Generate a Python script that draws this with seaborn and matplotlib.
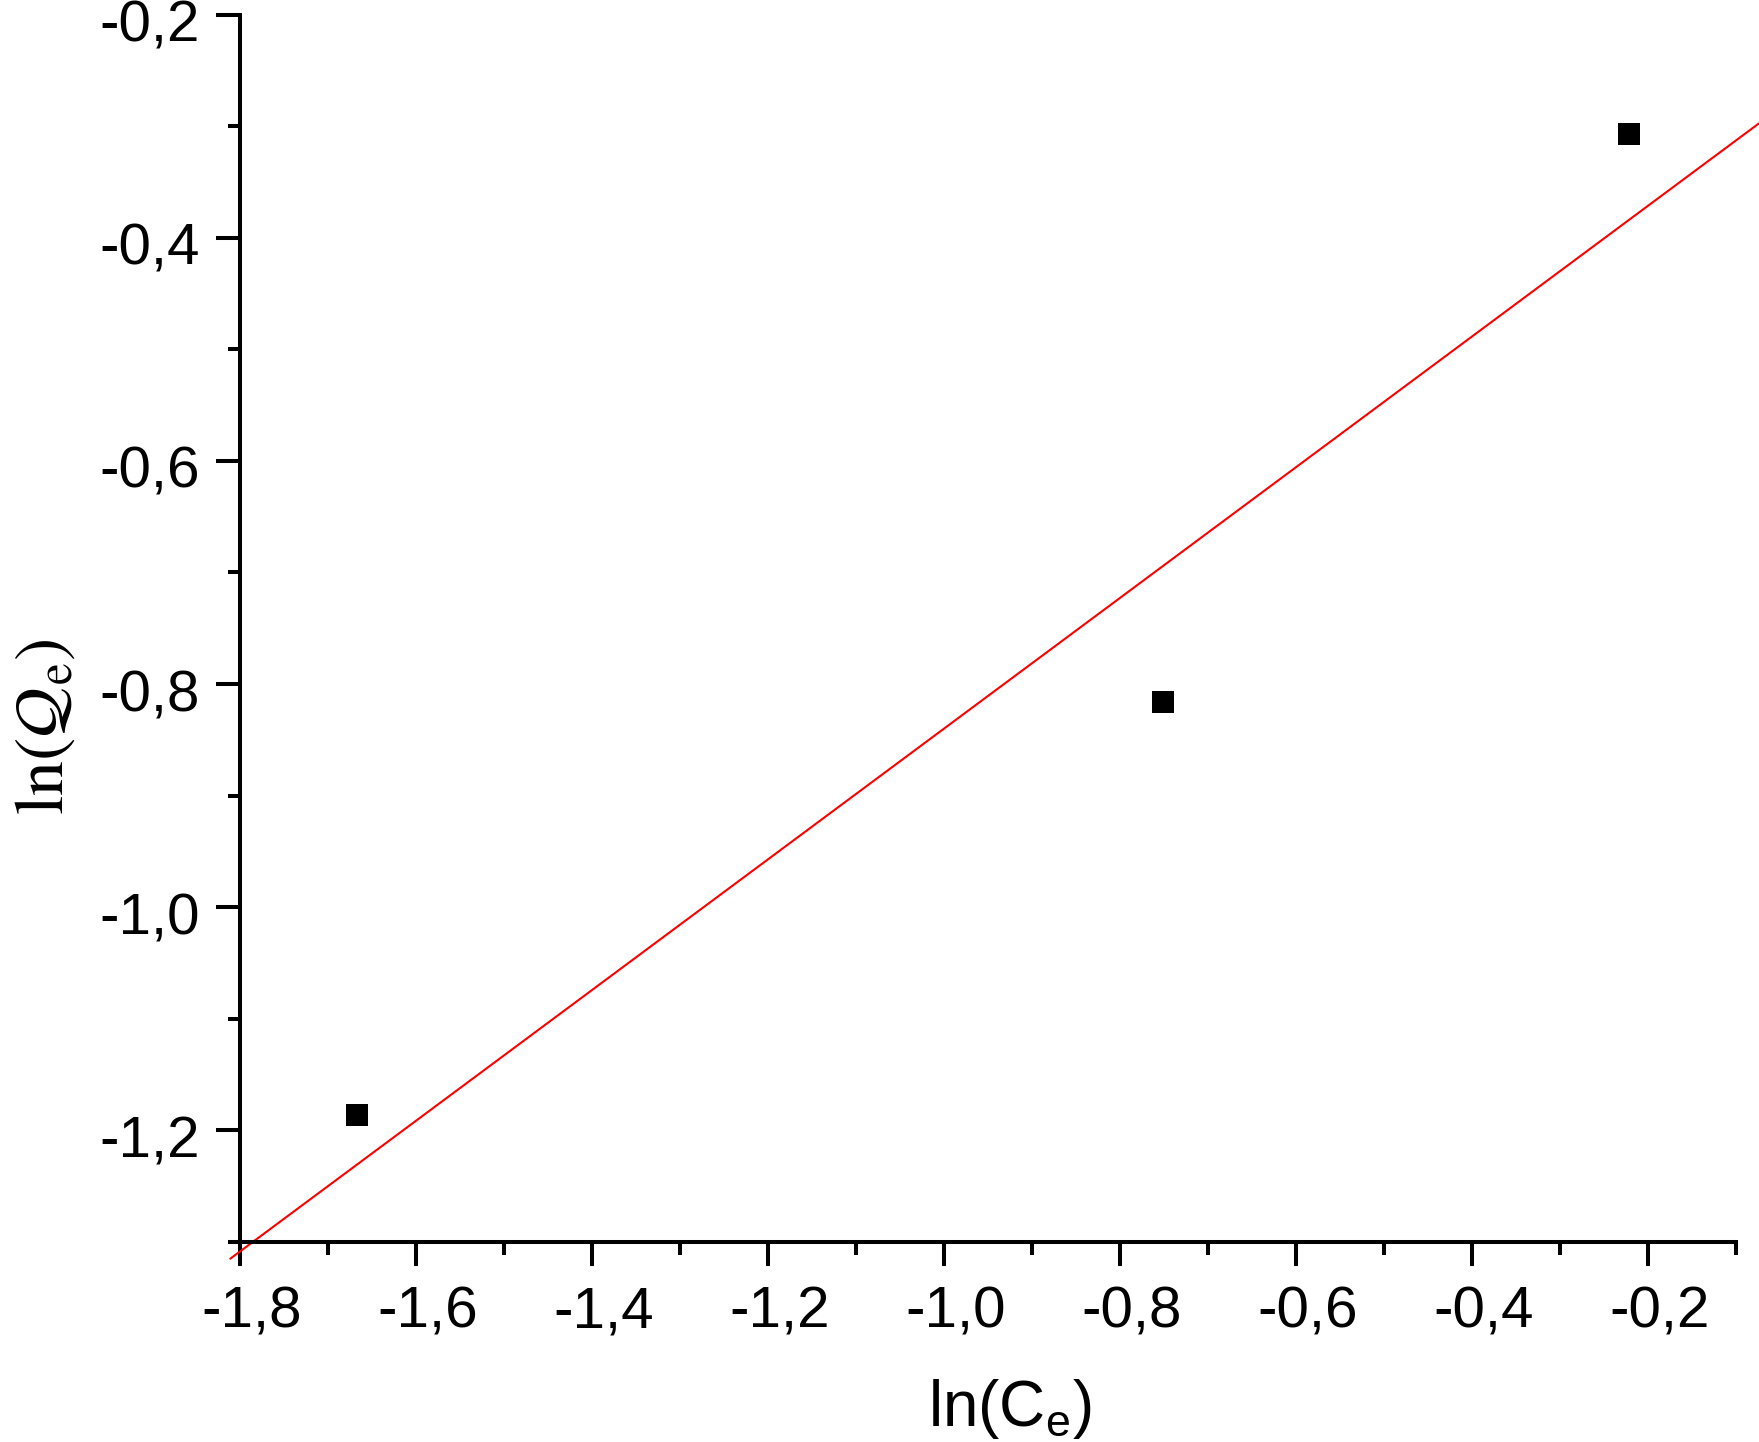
import numpy as np
import pandas as pd
import matplotlib
matplotlib.use("Agg")
import matplotlib.pyplot as plt
from matplotlib.ticker import MultipleLocator, FuncFormatter
from matplotlib.transforms import ScaledTranslation
import seaborn as sns

# Data
ln_ce = [-1.667, -0.751, -0.222]
ln_qe = [-1.186, -0.816, -0.307]
fit_x_range = [-1.811, -0.074]

x_ticks = [-1.8, -1.6, -1.4, -1.2, -1.0, -0.8, -0.6, -0.4, -0.2]
y_ticks = [-1.2, -1.0, -0.8, -0.6, -0.4, -0.2]

sns.set_theme(style="ticks")
plt.rcParams['font.family'] = ['Liberation Sans', 'DejaVu Sans']
plt.rcParams['mathtext.fontset'] = 'custom'
plt.rcParams['mathtext.rm'] = 'Liberation Sans'
plt.rcParams['mathtext.it'] = 'Liberation Sans:italic'

fig = plt.figure(figsize=(17.59, 14.42), dpi=100)
ax = fig.add_axes([0.1364, 0.1387, 0.9869 - 0.1364, 0.9899 - 0.1387])

df = pd.DataFrame({"x": ln_ce, "y": ln_qe})
slope, intercept = np.polyfit(ln_ce, ln_qe, 1)
fit_df = pd.DataFrame({"x": fit_x_range,
                       "y": [slope * v + intercept for v in fit_x_range]})

sns.lineplot(data=fit_df, x="x", y="y", ax=ax, color="#ff0000", linewidth=1.5,
             clip_on=False, zorder=2)
sns.scatterplot(data=df, x="x", y="y", ax=ax, marker="s", s=250, color="black",
                edgecolor="black", linewidth=0, zorder=3, clip_on=False)

ax.set_xlim(-1.8, -0.1)
ax.set_ylim(-1.3, -0.2)
ax.set_xticks(x_ticks)
ax.set_yticks(y_ticks)
ax.xaxis.set_minor_locator(MultipleLocator(0.1))
ax.yaxis.set_minor_locator(MultipleLocator(0.1))
fmt = FuncFormatter(lambda v, p: f"{v:.1f}".replace(".", ","))
ax.xaxis.set_major_formatter(fmt)
ax.yaxis.set_major_formatter(fmt)

for s in ["top", "right"]:
    ax.spines[s].set_visible(False)
for s in ["left", "bottom"]:
    ax.spines[s].set_linewidth(2.9)
    ax.spines[s].set_color("black")

ax.tick_params(axis="both", which="major", direction="out", length=17, width=2.9,
               labelsize=42, color="black", labelcolor="black")
ax.tick_params(axis="both", which="minor", direction="out", length=9, width=2.9,
               color="black")
ax.tick_params(axis="x", which="major", pad=14)
ax.tick_params(axis="y", which="major", pad=12)

# small offsets of tick labels as in the reference
x_off = ScaledTranslation(0.12, 0, fig.dpi_scale_trans)
y_off = ScaledTranslation(0, -0.06, fig.dpi_scale_trans)
for t in ax.xaxis.get_major_ticks():
    t.label1.set_transform(t.label1.get_transform() + x_off)
for t in ax.yaxis.get_major_ticks():
    t.label1.set_transform(t.label1.get_transform() + y_off)

ax.set_xlabel(r"ln($\mathregular{C}_{\mathregular{e}}$)", fontsize=46, color="black")
ax.set_ylabel(r"$\mathrm{ln}(\mathcal{Q}_{\mathrm{e}})$", fontsize=50, color="black",
              math_fontfamily="stix")
ax.xaxis.set_label_coords(0.5147, -0.110)
ax.yaxis.set_label_coords(-0.109, 0.4196)

ax.grid(False)
fig.savefig("out.png", dpi=100)
